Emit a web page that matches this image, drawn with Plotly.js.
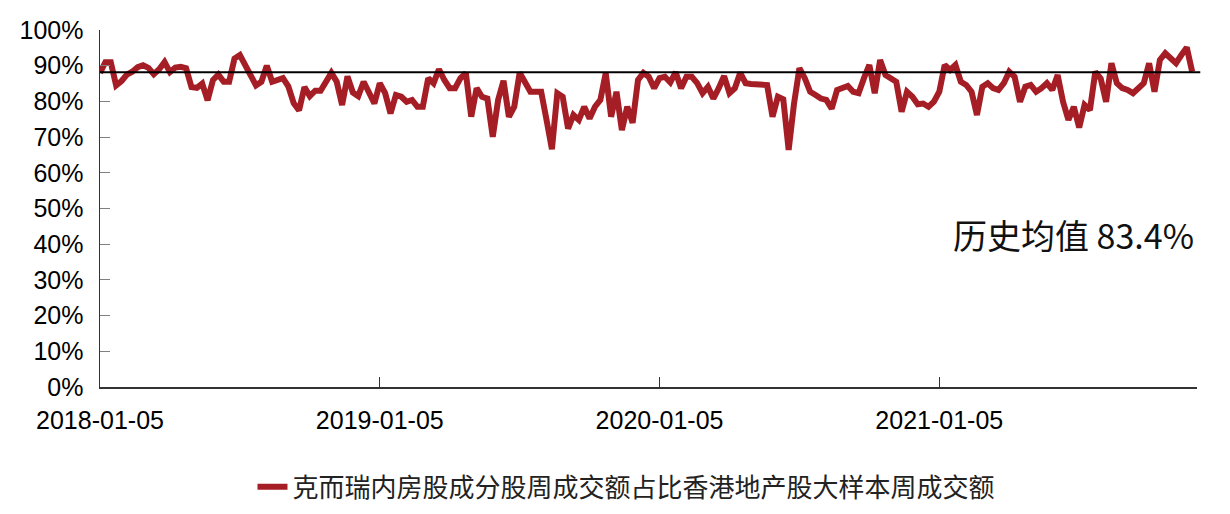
<!DOCTYPE html>
<html>
<head>
<meta charset="utf-8">
<script src="https://cdn.plot.ly/plotly-3.0.1.min.js"></script>
<style>
  html, body { margin: 0; padding: 0; background: #fff; }
  #chart { width: 1230px; height: 514px; }
</style>
</head>
<body>
<div id="chart"></div>
<script>
// Weekly share (%) starting 2018-01-05
const seriesName = '克而瑞内房股成分股周成交额占比香港地产股大样本周成交额';
const shareValues = [
  88, 91, 91, 84.5, 85.7, 87.5, 88.3, 89.6, 90.1, 89.4,
  87.6, 89, 91, 88.2, 89.5, 89.7, 89.3, 84, 83.8, 85,
  80.3, 86, 87.5, 85.5, 85.5, 92, 93, 90, 87, 84.5,
  85.5, 90, 85.5, 86, 86.5, 84.2, 79.5, 77.5, 84, 81.5,
  83, 83, 85.5, 88, 85.5, 79, 87, 82.5, 81.5, 85.5,
  82.5, 79.4, 85.1, 82.3, 76.6, 81.8, 81.3, 79.9, 80.4, 78.5,
  78.5, 86.5, 85.1, 89.0, 86.0, 83.7, 83.7, 86.5, 87.9, 75.7,
  83.7, 81.3, 80.8, 70.1, 80.4, 85.8, 75.7, 78.5, 88.0, 85.5,
  82.7, 82.7, 82.7, 74.8, 66.6, 82.3, 81.3, 72.4, 76.2, 74.8,
  78.5, 75.2, 78.5, 80.4, 87.9, 75.7, 82.7, 72.0, 78.5, 74.0,
  86.0, 88.0, 86.9, 83.7, 86.5, 86.9, 85.3, 88.2, 83.7, 86.9,
  86.9, 85.1, 82.3, 84.1, 80.8, 83.7, 87.1, 82.3, 83.7, 88.0,
  85.1, 84.9, 84.9, 84.9, 84.6, 75.7, 81.3, 80.6, 66.4, 79.4,
  89.3, 86.5, 82.7, 81.8, 80.8, 80.4, 78.0, 83.2, 83.7, 84.3,
  82.7, 82.3, 86.5, 90.2, 82.3, 91.6, 87.4, 86.5, 85.5, 77.1,
  82.7, 81.3, 79.2, 79.4, 78.5, 79.9, 82.7, 90.2, 88.8, 90.2,
  85.5, 84.6, 82.7, 76.2, 84.1, 85.1, 83.7, 83.2, 85.1, 88.3,
  86.9, 79.9, 84.1, 84.6, 82.7, 83.7, 85.1, 83.2, 87.4, 79.9,
  74.8, 78.5, 72.7, 79.0, 77.6, 88.3, 86.4, 79.9, 90.7, 85.1,
  83.7, 83.2, 82.3, 83.7, 85.1, 90.7, 82.7, 91.6, 93.5, 92.1,
  90.7, 93.0, 95.1, 88.3
];
const tickWeeks = [0, 52, 104, 156];
const tickLabels = ['2018-01-05', '2019-01-05', '2020-01-05', '2021-01-05'];
const yTickVals = [0, 10, 20, 30, 40, 50, 60, 70, 80, 90, 100];
const yTickText = ['0%', '10%', '20%', '30%', '40%', '50%', '60%', '70%', '80%', '90%', '100%'];
const refLineValue = 88.2;
const annotationText = '历史均值 83.4%';

const weekIndex = shareValues.map((_, i) => i);

const trace = {
  x: weekIndex,
  y: shareValues,
  type: 'scatter',
  mode: 'lines',
  name: seriesName,
  line: { color: '#A61E25', width: 6 },
  hoverinfo: 'y'
};

const layout = {
  width: 1230,
  height: 514,
  margin: { l: 100, r: 33, t: 30, b: 127, autoexpand: false },
  paper_bgcolor: '#ffffff',
  plot_bgcolor: '#ffffff',
  font: { family: 'Liberation Sans, Arial, sans-serif', size: 24, color: '#000' },
  showlegend: true,
  legend: {
    orientation: 'h',
    x: 0.139, xanchor: 'left',
    y: -0.28, yanchor: 'middle',
    font: { family: 'Noto Sans CJK SC, sans-serif', size: 26, color: '#222' },
    bgcolor: 'rgba(0,0,0,0)'
  },
  xaxis: {
    range: [0, 203.9],
    tickmode: 'array',
    tickvals: tickWeeks,
    ticktext: tickLabels,
    ticks: 'inside',
    ticklen: 10,
    tickcolor: '#333',
    showgrid: false,
    zeroline: false,
    showline: true,
    linecolor: '#333',
    linewidth: 1.5,
    automargin: false,
    ticklabelstandoff: 10,
    tickfont: { family: 'Liberation Sans, Arial, sans-serif', size: 25, color: '#000' }
  },
  yaxis: {
    range: [0, 100],
    tickmode: 'array',
    tickvals: yTickVals,
    ticktext: yTickText,
    ticks: 'inside',
    ticklen: 10,
    tickcolor: '#808080',
    showgrid: false,
    zeroline: false,
    showline: true,
    linecolor: '#333',
    linewidth: 1.5,
    automargin: false,
    ticklabelstandoff: 10,
    tickfont: { family: 'Liberation Sans, Arial, sans-serif', size: 25, color: '#000' }
  },
  shapes: [{
    type: 'line', xref: 'paper', yref: 'y',
    x0: 0, x1: 1.003, y0: refLineValue, y1: refLineValue,
    line: { color: '#000', width: 2 }
  }],
  annotations: [{
    text: annotationText,
    xref: 'paper', yref: 'paper',
    x: 0.999, xanchor: 'right',
    y: (387 - 235) / 357, yanchor: 'middle',
    showarrow: false,
    font: { family: 'Noto Sans CJK SC, sans-serif', size: 34, color: '#111' }
  }]
};

Plotly.newPlot('chart', [trace], layout, { displayModeBar: false, staticPlot: true });
</script>
</body>
</html>
